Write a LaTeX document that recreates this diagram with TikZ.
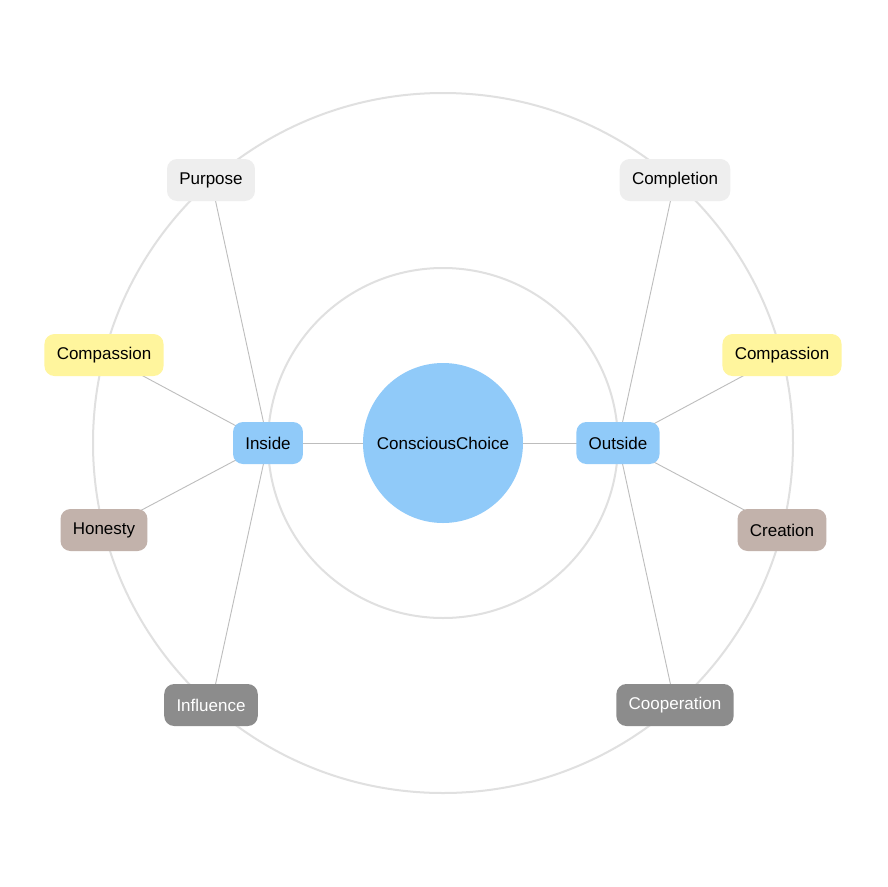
\documentclass[tikz,border=0pt]{standalone}
\usepackage{fontspec}
\setmainfont{Liberation Sans}
\usetikzlibrary{backgrounds}
\begin{document}
\begin{tikzpicture}[x=1pt,y=-1pt,
  ring/.style={draw=ringc,line width=2pt},
  link/.style={draw=linkc,line width=0.9pt},
  box/.style={rounded corners=10pt,minimum height=42pt,inner xsep=12.3pt,inner ysep=0pt,font=\fontsize{17}{20}\selectfont,text=black},
  lightbox/.style={box,fill=greyc},
  yellowbox/.style={box,fill=yellowc},
  brownbox/.style={box,fill=brownc},
  darkbox/.style={box,fill=darkc,text=white},
  bluebox/.style={box,fill=bluec},
  hub/.style={circle,fill=bluec,minimum size=160pt,inner sep=0pt,font=\fontsize{17}{20}\selectfont}
]
\definecolor{ringc}{HTML}{E0E0E0}
\definecolor{linkc}{HTML}{BDBDBD}
\definecolor{greyc}{HTML}{EEEEEE}
\definecolor{yellowc}{HTML}{FFF59D}
\definecolor{brownc}{HTML}{C2B2AB}
\definecolor{darkc}{HTML}{8C8C8C}
\definecolor{bluec}{HTML}{90CAF9}
\useasboundingbox (0,0) rectangle (887,887);
\coordinate (o) at (443,443);
% nodes
\node[hub] (cc) at (443,443) {ConsciousChoice};
\node[bluebox] (in) at (268,443) {Inside};
\node[bluebox] (out) at (618,443) {Outside};
\node[lightbox] (pur) at (211,180) {Purpose};
\node[lightbox] (com) at (675,180) {Completion};
\node[yellowbox] (cpl) at (104,355) {Compassion};
\node[yellowbox] (cpr) at (782,355) {Compassion};
\node[brownbox] (hon) at (104,530) {Honesty};
\node[brownbox] (cre) at (782,530) {Creation};
\node[darkbox] (inf) at (211,705) {Influence};
\node[darkbox] (coo) at (675,705) {Cooperation};
\begin{scope}[on background layer]
\fill[white] (0,0) rectangle (887,887);
\draw[ring] (o) circle[radius=350];
\draw[ring] (o) circle[radius=175];
\draw[link] (cc.center) -- (in.center);
\draw[link] (cc.center) -- (out.center);
\draw[link] (in.center) -- (pur.center);
\draw[link] (in.center) -- (cpl.center);
\draw[link] (in.center) -- (hon.center);
\draw[link] (in.center) -- (inf.center);
\draw[link] (out.center) -- (com.center);
\draw[link] (out.center) -- (cpr.center);
\draw[link] (out.center) -- (cre.center);
\draw[link] (out.center) -- (coo.center);
\end{scope}
\end{tikzpicture}
\end{document}
